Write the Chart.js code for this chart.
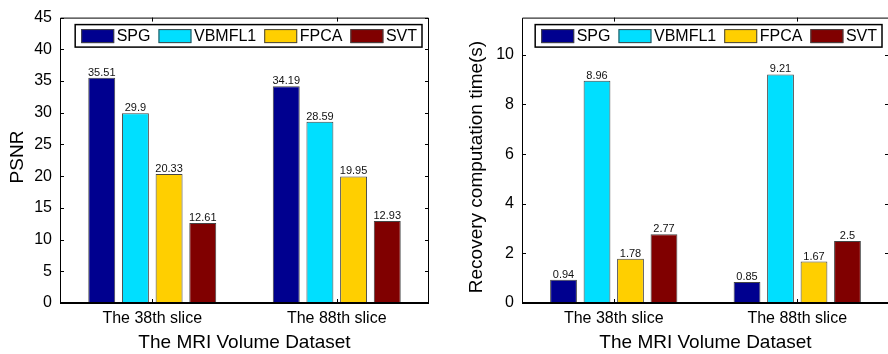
<!DOCTYPE html>
<html>
<head>
<meta charset="utf-8">
<script src="https://cdn.jsdelivr.net/npm/chart.js@4.4.0/dist/chart.umd.min.js"></script>
<style>
  html, body { margin: 0; padding: 0; background: #fff; overflow: hidden; }
  #wrap { position: relative; width: 888px; height: 354px; overflow: hidden; }
  canvas { position: absolute; top: 0; }
</style>
</head>
<body>
<div id="wrap">
  <canvas id="graficoPSNR" width="444" height="354" style="left:0"></canvas>
  <canvas id="graficoTiempo" width="446" height="354" style="left:444px"></canvas>
</div>
<script>
// Datos
const categorias = ['The 38th slice', 'The 88th slice'];
const metodos = ['SPG', 'VBMFL1', 'FPCA', 'SVT'];

const psnrSPG = [35.51, 34.19];
const psnrVBMFL1 = [29.9, 28.59];
const psnrFPCA = [20.33, 19.95];
const psnrSVT = [12.61, 12.93];

const tiempoSPG = [0.94, 0.85];
const tiempoVBMFL1 = [8.96, 9.21];
const tiempoFPCA = [1.78, 1.67];
const tiempoSVT = [2.77, 2.5];

const ticksPSNR = [0, 5, 10, 15, 20, 25, 30, 35, 40, 45];
const ticksTiempo = [0, 2, 4, 6, 8, 10];

const colores = ['#00008F', '#00DFFF', '#FFCF00', '#800000'];
const FUENTE = "'Liberation Sans', Arial, Helvetica, sans-serif";

Chart.defaults.color = '#000';
Chart.defaults.font.family = FUENTE;

// marco, marcas de ejes, etiquetas de valores, titulo Y y leyenda al estilo MATLAB
const marcoPlugin = {
  id: 'marco',
  afterDatasetsDraw(chart) {
    const ctx = chart.ctx;
    ctx.save();
    ctx.font = '11px ' + FUENTE;
    ctx.fillStyle = '#111';
    ctx.textAlign = 'center';
    ctx.textBaseline = 'alphabetic';
    chart.data.datasets.forEach((ds, i) => {
      chart.getDatasetMeta(i).data.forEach((bar, j) => {
        ctx.fillText(String(ds.data[j]), bar.x, bar.y - 2);
      });
    });
    ctx.restore();
  },
  afterDraw(chart, args, opts) {
    const ctx = chart.ctx;
    const a = chart.chartArea;
    const ys = chart.scales.y;
    const xs = chart.scales.x;
    ctx.save();
    ctx.strokeStyle = '#000';

    // caja
    ctx.lineWidth = 1;
    ctx.beginPath();
    ctx.moveTo(a.left + 0.5, a.bottom);
    ctx.lineTo(a.left + 0.5, a.top + 0.5);
    ctx.lineTo(a.right - 0.5, a.top + 0.5);
    ctx.lineTo(a.right - 0.5, a.bottom);
    ctx.stroke();
    ctx.lineWidth = 2;
    ctx.beginPath();
    ctx.moveTo(a.left, a.bottom);
    ctx.lineTo(a.right, a.bottom);
    ctx.stroke();

    // marcas hacia dentro
    ctx.lineWidth = 1;
    ctx.beginPath();
    ys.ticks.forEach(t => {
      const py = Math.round(ys.getPixelForValue(t.value)) + 0.5;
      ctx.moveTo(a.left, py); ctx.lineTo(a.left + 4, py);
      ctx.moveTo(a.right, py); ctx.lineTo(a.right - 4, py);
    });
    categorias.forEach((c, i) => {
      const px = Math.round(xs.getPixelForValue(i)) + 0.5;
      ctx.moveTo(px, a.bottom); ctx.lineTo(px, a.bottom - 4);
      ctx.moveTo(px, a.top); ctx.lineTo(px, a.top + 4);
    });
    ctx.stroke();

    // titulo del eje Y
    ctx.save();
    ctx.translate(opts.tituloX, opts.tituloY);
    ctx.rotate(-Math.PI / 2);
    ctx.font = '19px ' + FUENTE;
    ctx.fillStyle = '#000';
    ctx.textAlign = 'center';
    ctx.textBaseline = 'middle';
    ctx.fillText(opts.texto, 0, 0);
    ctx.restore();

    // leyenda
    ctx.font = '16px ' + FUENTE;
    const muestra = 33, hueco = 2.5, sep = 8, padIzq = 6, padDer = 5, alto = 22.5;
    const anchos = chart.data.datasets.map(ds => ctx.measureText(ds.label).width);
    const total = padIzq + padDer + anchos.reduce((s, w) => s + w, 0) +
      chart.data.datasets.length * (muestra + hueco) + (chart.data.datasets.length - 1) * sep;
    const lx = a.right - 7 - total;
    const ly = a.top + 7;
    ctx.fillStyle = '#fff';
    ctx.fillRect(lx, ly, total, alto);
    ctx.lineWidth = 1.5;
    ctx.strokeRect(lx, ly, total, alto);
    let x = lx + padIzq;
    ctx.textAlign = 'left';
    ctx.textBaseline = 'middle';
    chart.data.datasets.forEach((ds, i) => {
      ctx.fillStyle = ds.backgroundColor;
      ctx.fillRect(x, ly + 4.5, muestra, 14);
      ctx.lineWidth = 1;
      ctx.strokeStyle = '#444';
      ctx.strokeRect(x + 0.5, ly + 5, muestra - 1, 13);
      x += muestra + hueco;
      ctx.fillStyle = '#000';
      ctx.fillText(ds.label, x, ly + alto / 2 + 1);
      x += anchos[i] + sep;
    });
    ctx.restore();
  }
};

function crearGrafico(id, series, ticksY, maxY, tituloY, posTitulo, anchoY, padding) {
  const ctx = document.getElementById(id).getContext('2d');
  return new Chart(ctx, {
    type: 'bar',
    data: {
      labels: categorias,
      datasets: metodos.map((m, i) => ({
        label: m,
        data: series[i],
        backgroundColor: colores[i],
        borderColor: '#444',
        borderWidth: 1,
        categoryPercentage: 0.73,
        barPercentage: 0.8
      }))
    },
    options: {
      responsive: false,
      animation: false,
      layout: { padding },
      plugins: {
        legend: { display: false },
        tooltip: { enabled: false },
        marco: { texto: tituloY, tituloX: posTitulo[0], tituloY: posTitulo[1] }
      },
      scales: {
        x: {
          grid: { display: false, drawTicks: false },
          border: { display: false },
          ticks: { font: { size: 16 }, padding: 6, color: '#000' },
          title: {
            display: true, text: 'The MRI Volume Dataset',
            font: { size: 19 }, padding: { top: 0, bottom: 0 }, color: '#000'
          },
          afterFit: s => { s.height = 51; }
        },
        y: {
          min: 0,
          max: maxY,
          grid: { display: false, drawTicks: false },
          border: { display: false },
          ticks: { font: { size: 16 }, padding: 8, color: '#000' },
          afterBuildTicks: s => { s.ticks = ticksY.map(v => ({ value: v })); },
          afterFit: s => { s.width = anchoY; }
        }
      }
    },
    plugins: [marcoPlugin]
  });
}

crearGrafico('graficoPSNR', [psnrSPG, psnrVBMFL1, psnrFPCA, psnrSVT],
  ticksPSNR, 45, 'PSNR', [17.5, 157], 60, { top: 15, right: 15, left: 0, bottom: 0 });

crearGrafico('graficoTiempo', [tiempoSPG, tiempoVBMFL1, tiempoFPCA, tiempoSVT],
  ticksTiempo, 11.5, 'Recovery computation time(s)', [33, 167], 78, { top: 13, right: 1, left: 0, bottom: 0 });
</script>
</body>
</html>
